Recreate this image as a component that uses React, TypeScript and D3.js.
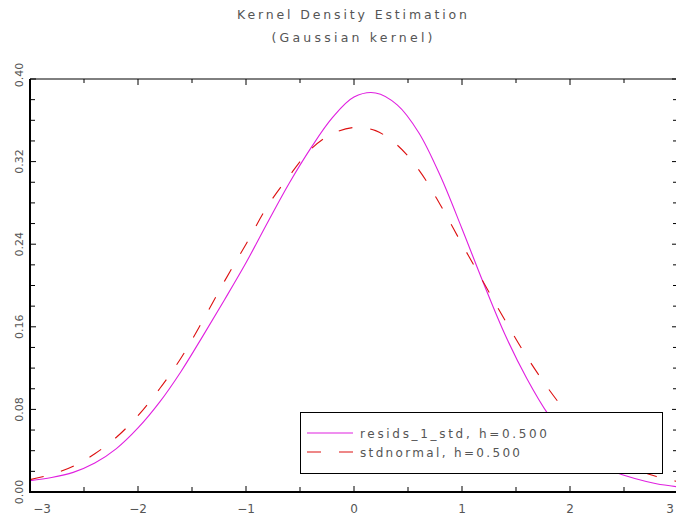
import React from "react";
import * as d3 from "d3";

const gridX = [-3, -2.8, -2.6, -2.4, -2.2, -2, -1.8, -1.6, -1.4, -1.2, -1, -0.8, -0.6, -0.4, -0.2, 0, 0.2, 0.4, 0.6, 0.8, 1, 1.2, 1.4, 1.6, 1.8, 2, 2.2, 2.4, 2.6, 2.8, 3];
const residsDensity = [0.011, 0.014, 0.019, 0.028, 0.042, 0.062, 0.087, 0.117, 0.151, 0.186, 0.222, 0.261, 0.299, 0.333, 0.3625, 0.3825, 0.3865, 0.375, 0.348, 0.306, 0.255, 0.202, 0.152, 0.110, 0.075, 0.049, 0.031, 0.020, 0.013, 0.008, 0.005];
const stdnormalDensity = [0.012, 0.017, 0.025, 0.037, 0.053, 0.074, 0.100, 0.130, 0.166, 0.204, 0.240, 0.277, 0.306, 0.332, 0.347, 0.353, 0.350, 0.336, 0.312, 0.278, 0.240, 0.203, 0.166, 0.131, 0.100, 0.073, 0.050, 0.033, 0.022, 0.015, 0.010];

const xMajorTicks = [-3, -2, -1, 0, 1, 2, 3];
const xMinorTicks = [-2.5, -1.5, -0.5, 0.5, 1.5, 2.5];
const xTickLabels = ["\u22123", "\u22122", "\u22121", "0", "1", "2", "3"];
const yMajorTicks = [0, 0.08, 0.16, 0.24, 0.32, 0.40];
const yMinorTicks = [0.02, 0.04, 0.06, 0.10, 0.12, 0.14, 0.18, 0.20, 0.22, 0.26, 0.28, 0.30, 0.34, 0.36, 0.38];
const yTickLabels = ["0.00", "0.08", "0.16", "0.24", "0.32", "0.40"];
const titleLines = ["Kernel Density Estimation", "(Gaussian kernel)"];
const seriesNames = ["resids_1_std, h=0.500", "stdnormal, h=0.500"];

const W = 676, H = 515;
const L = 30, R = 678, T = 79, B = 492;

export default function App() {
  const x = d3.scaleLinear().domain([-3, 3]).range([L, R]);
  const y = d3.scaleLinear().domain([0, 0.4]).range([B, T]);
  const line = d3
    .line<number>()
    .x((_, i) => x(gridX[i]))
    .y((d) => y(d))
    .curve(d3.curveCatmullRom.alpha(0.5));
  const labelFont = "DejaVu Sans, sans-serif";
  const textFill = "#555";
  const nX = xMajorTicks.length;
  return (
    <svg width={W} height={H} style={{ position: "absolute", left: 0, top: 0, background: "#fff" }}>
      <rect x={0} y={0} width={W} height={H} fill="#fff" />
      {/* title */}
      <text x={352} y={19} textAnchor="middle" fontFamily={labelFont} fontSize={12.5} fill={textFill} textLength={230} lengthAdjust="spacing">{titleLines[0]}</text>
      <text x={352} y={42} textAnchor="middle" fontFamily={labelFont} fontSize={12.5} fill={textFill} textLength={161} lengthAdjust="spacing">{titleLines[1]}</text>

      {/* curves */}
      <path d={line(residsDensity) || ""} fill="none" stroke="#e020e0" strokeWidth={1.1} />
      <path d={line(stdnormalDensity) || ""} fill="none" stroke="#dd1010" strokeWidth={1.1} strokeDasharray="14,18" />

      {/* frame */}
      <line x1={L} x2={R} y1={T} y2={T} stroke="#000" strokeWidth={1} />
      <line x1={R} x2={R} y1={T} y2={B} stroke="#000" strokeWidth={1} />
      <line x1={L} x2={L} y1={T} y2={B + 1} stroke="#000" strokeWidth={2} />
      <line x1={L - 1} x2={R} y1={B} y2={B} stroke="#000" strokeWidth={2} />

      {/* x ticks */}
      {xMajorTicks.map((t) => (
        <g key={"xM" + t}>
          <line x1={x(t)} x2={x(t)} y1={B} y2={B - 6} stroke="#000" />
          <line x1={x(t)} x2={x(t)} y1={T} y2={T + 6} stroke="#000" />
        </g>
      ))}
      {xMinorTicks.map((t) => (
        <g key={"xm" + t}>
          <line x1={x(t)} x2={x(t)} y1={B} y2={B - 5} stroke="#000" />
          <line x1={x(t)} x2={x(t)} y1={T} y2={T + 4} stroke="#000" />
        </g>
      ))}
      {xMajorTicks.map((t, i) => (
        <text
          key={"xl" + t}
          x={i === 0 ? x(t) + 12 : i === nX - 1 ? x(t) - 8 : x(t)}
          y={513}
          textAnchor="middle"
          fontFamily={labelFont}
          fontSize={12}
          fill={textFill}
        >
          {xTickLabels[i]}
        </text>
      ))}

      {/* y ticks */}
      {yMajorTicks.map((t) => (
        <g key={"yM" + t}>
          <line x1={L} x2={L + 6} y1={y(t)} y2={y(t)} stroke="#000" />
          <line x1={R} x2={R - 6} y1={y(t)} y2={y(t)} stroke="#000" />
        </g>
      ))}
      {yMinorTicks.map((t) => (
        <g key={"ym" + t}>
          <line x1={L} x2={L + 5} y1={y(t)} y2={y(t)} stroke="#000" />
          <line x1={R} x2={R - 5} y1={y(t)} y2={y(t)} stroke="#000" />
        </g>
      ))}
      {yMajorTicks.map((t, i) => (
        <text
          key={"yl" + t}
          transform={`translate(23,${i === yMajorTicks.length - 1 ? y(t) - 4 : y(t)}) rotate(-90)`}
          textAnchor="middle"
          fontFamily={labelFont}
          fontSize={11}
          fill={textFill}
        >
          {yTickLabels[i]}
        </text>
      ))}

      {/* legend */}
      <rect x={300.5} y={412.5} width={362} height={61} fill="#fff" stroke="#000" strokeWidth={1} />
      <line x1={307} x2={353} y1={433} y2={433} stroke="#e020e0" strokeWidth={1.1} />
      <line x1={307} x2={353} y1={452} y2={452} stroke="#dd1010" strokeWidth={1.1} strokeDasharray="14,18" />
      <text x={360} y={438} fontFamily={labelFont} fontSize={12} fill={textFill} textLength={187} lengthAdjust="spacing">{seriesNames[0]}</text>
      <text x={360} y={457} fontFamily={labelFont} fontSize={12} fill={textFill} textLength={160} lengthAdjust="spacing">{seriesNames[1]}</text>
    </svg>
  );
}
